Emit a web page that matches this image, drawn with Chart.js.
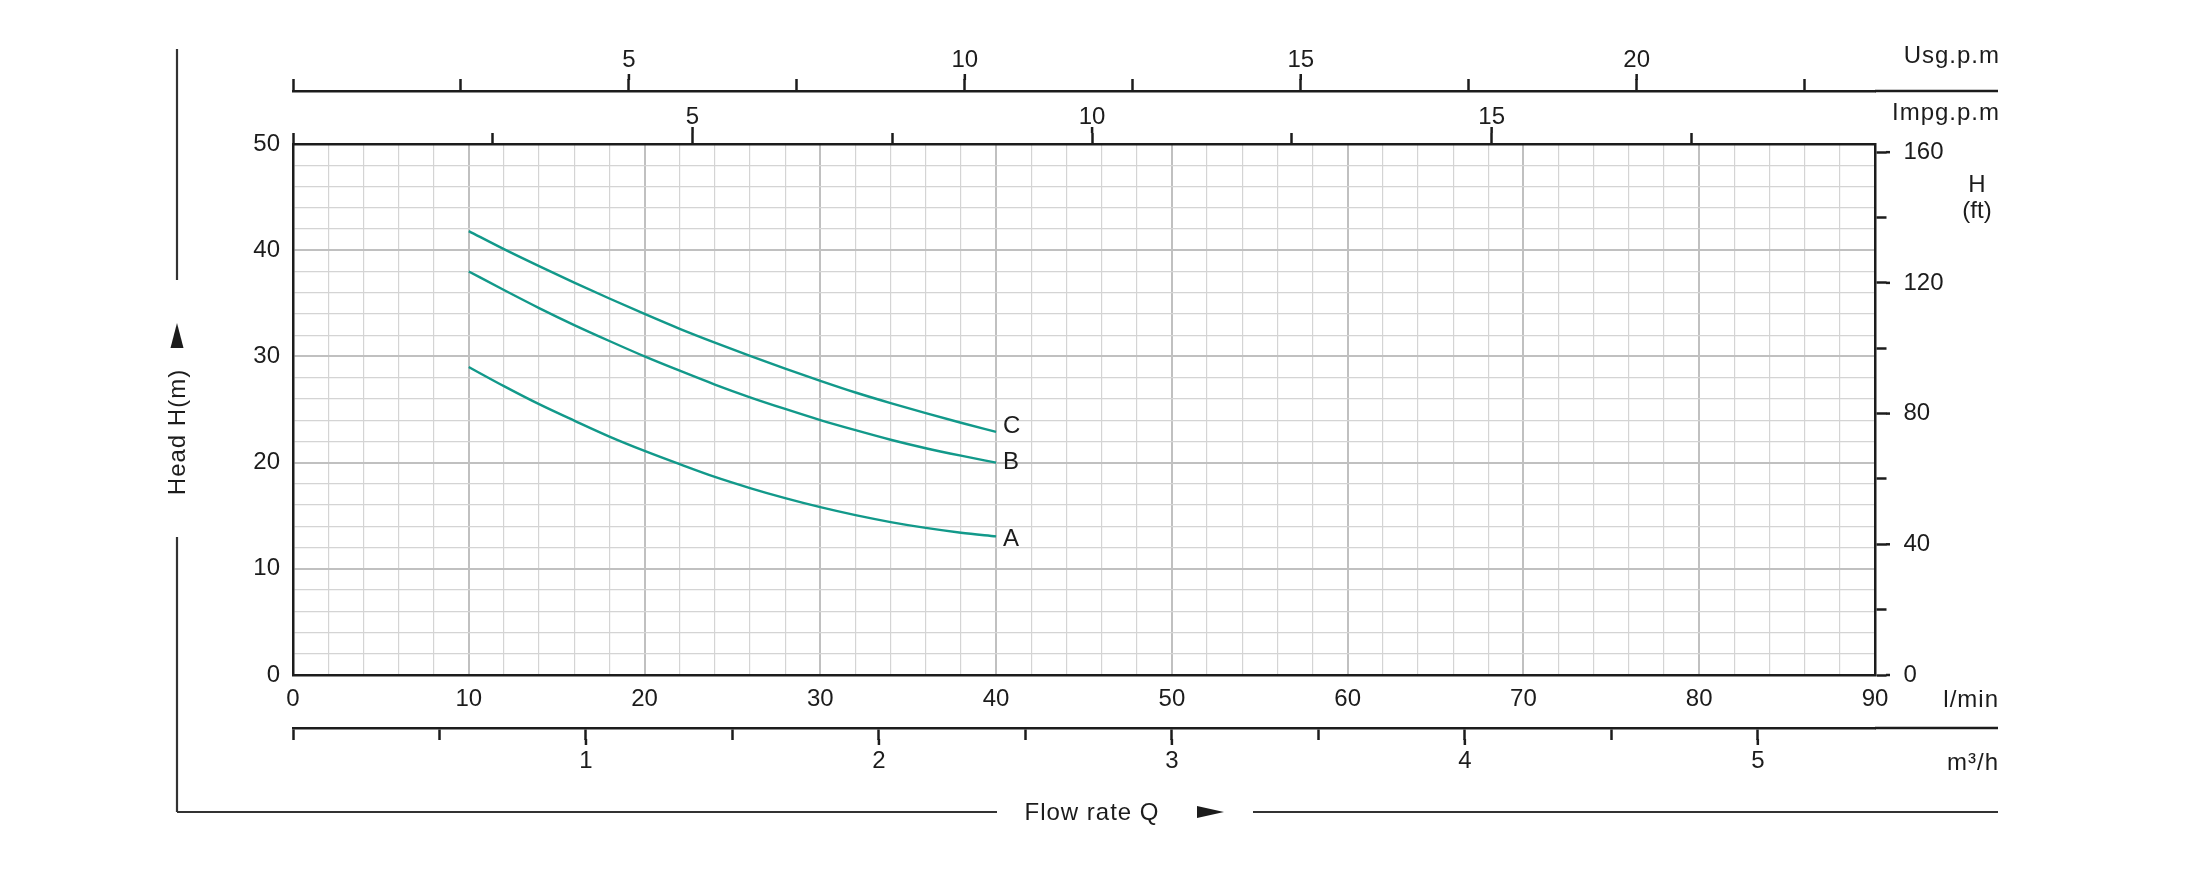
<!DOCTYPE html>
<html lang="en">
<head>
<meta charset="UTF-8">
<title>Pump curves</title>
<style>
    html, body { margin: 0; padding: 0; background: #fff; }
    #curveChart { display: block; }
</style>
</head>
<body>
<canvas id="curveChart" width="2199" height="873"></canvas>

<script src="https://cdn.jsdelivr.net/npm/chart.js@4/dist/chart.umd.min.js"></script>
<script>
    // flow rate Q (l/min) and head H (m)
    const flow  = [10, 12, 14, 16, 18, 20, 22, 24, 26, 28, 30, 32, 34, 36, 38, 40];
    const headA = [29.0, 27.2, 25.5, 23.95, 22.45, 21.1, 19.85, 18.65, 17.6, 16.65, 15.8, 15.05, 14.4, 13.85, 13.4, 13.05];
    const headB = [38.0, 36.25, 34.55, 32.95, 31.45, 30.0, 28.65, 27.35, 26.15, 25.05, 24.0, 23.05, 22.15, 21.35, 20.65, 20.0];
    const headC = [41.8, 40.1, 38.5, 36.95, 35.45, 34.0, 32.6, 31.3, 30.05, 28.85, 27.7, 26.6, 25.6, 24.65, 23.75, 22.9];
    const curveNames = ['A', 'B', 'C'];

    // numbered ticks on every scale
    const lpmLabels  = [0, 10, 20, 30, 40, 50, 60, 70, 80, 90];
    const headLabels = [0, 10, 20, 30, 40, 50];
    const ftLabels   = [0, 40, 80, 120, 160];
    const usgLabels  = [5, 10, 15, 20];
    const impgLabels = [5, 10, 15];
    const m3hLabels  = [1, 2, 3, 4, 5];

    // ranges of the secondary scales (same span as 0..90 l/min / 0..50 m)
    const LPM_MAX = 90;
    const HEAD_MAX = 50;
    const FT_MAX = 162.5;            // as printed on the sheet
    const USG_MAX = LPM_MAX / 3.822; // as printed on the sheet
    const IMPG_MAX = LPM_MAX / 4.546;
    const M3H_MAX = LPM_MAX * 0.06;

    const FAMILY = "'Liberation Sans', Arial, sans-serif";
    const FONT = { family: FAMILY, size: 24 };
    const INK = '#1c1c1c';
    const TEAL = '#12998a';
    const GRID_MINOR = '#d4d4d4';
    const GRID_MAJOR = '#c0c0c0';
    const labelNudge = [3, 0, -5]; // A, B, C

    function steps(max, step) {
        const out = [];
        for (let v = 0; v <= max + 1e-9; v += step) out.push(Math.round(v * 100) / 100);
        return out;
    }
    function fixedTicks(values) {
        return scale => { scale.ticks = values.map(v => ({ value: v })); };
    }
    function labelOnly(list) {
        return v => list.includes(v) ? String(v) : '';
    }
    function gridColor(every) {
        return c => (c.tick && Math.abs(c.tick.value % every) < 1e-9) ? GRID_MAJOR : GRID_MINOR;
    }
    function gridWidth(every) {
        return c => (c.tick && Math.abs(c.tick.value % every) < 1e-9) ? 2 : 1.2;
    }
    function line(ctx, x1, y1, x2, y2) {
        ctx.beginPath();
        ctx.moveTo(x1, y1);
        ctx.lineTo(x2, y2);
        ctx.stroke();
    }
    // longer marks on the numbered ticks
    function majorTicks(ctx, scale, values, from, to) {
        values.forEach(v => {
            const p = scale.getPixelForValue(v);
            if (scale.position === 'top') line(ctx, p, scale.bottom - from, p, scale.bottom - to);
            else if (scale.position === 'bottom') line(ctx, p, scale.top + from, p, scale.top + to);
            else line(ctx, scale.left + from, p, scale.left + to, p);
        });
    }

    const sheetDecor = {
        id: 'sheetDecor',
        afterDraw(chart) {
            const { ctx, chartArea: area, scales } = chart;
            const ruleEnd = area.right + 123;
            ctx.save();
            ctx.strokeStyle = INK;
            ctx.fillStyle = INK;

            // usg and m3/h rules run on past the plot
            ctx.lineWidth = 2.5;
            line(ctx, area.right, scales.usg.bottom, ruleEnd, scales.usg.bottom);
            line(ctx, area.right, scales.m3h.top, ruleEnd, scales.m3h.top);

            majorTicks(ctx, scales.usg, usgLabels, 11, 17);
            majorTicks(ctx, scales.impg, impgLabels, 11, 17);
            majorTicks(ctx, scales.m3h, m3hLabels, 11, 17);
            majorTicks(ctx, scales.ft, ftLabels, 11, 15);

            // unit names
            ctx.font = '24px ' + FAMILY;
            ctx.textBaseline = 'middle';
            ctx.save();
            ctx.letterSpacing = '1px';
            ctx.textAlign = 'right';
            ctx.fillText('Usg.p.m', ruleEnd + 2, 56);
            ctx.fillText('Impg.p.m', ruleEnd + 2, 113);
            ctx.fillText('l/min', ruleEnd + 1, 700);
            ctx.fillText('m³/h', ruleEnd + 1, 763);
            ctx.restore();
            ctx.textAlign = 'center';
            ctx.fillText('H', 1977, 185);
            ctx.fillText('(ft)', 1977, 211);

            // outer frame with axis titles
            const fx = area.left - 116;
            const fy = 812;
            ctx.lineWidth = 2.2;
            ctx.strokeStyle = '#333';
            line(ctx, fx, 49, fx, 280);
            line(ctx, fx, 537, fx, fy);
            line(ctx, fx, fy, 997, fy);
            line(ctx, 1253, fy, ruleEnd, fy);

            ctx.save();
            ctx.translate(fx + 1, 432);
            ctx.rotate(-Math.PI / 2);
            ctx.letterSpacing = '1px';
            ctx.fillText('Head H(m)', 0, 0);
            ctx.restore();
            ctx.beginPath();
            ctx.moveTo(fx, 323);
            ctx.lineTo(fx + 6.5, 348);
            ctx.lineTo(fx - 6.5, 348);
            ctx.closePath();
            ctx.fill();

            ctx.save();
            ctx.letterSpacing = '1px';
            ctx.fillText('Flow rate Q', 1092, 813);
            ctx.restore();
            ctx.beginPath();
            ctx.moveTo(1197, 806);
            ctx.lineTo(1224, 812);
            ctx.lineTo(1197, 818);
            ctx.closePath();
            ctx.fill();

            // curve names at the end of each curve
            ctx.textAlign = 'left';
            chart.data.datasets.forEach((ds, i) => {
                const pts = chart.getDatasetMeta(i).data;
                const last = pts[pts.length - 1];
                ctx.fillText(ds.label, last.x + 7, last.y + labelNudge[i]);
            });
            ctx.restore();
        }
    };

    const curves = [headA, headB, headC];

    new Chart(document.getElementById('curveChart'), {
        type: 'line',
        data: {
            datasets: curves.map((h, i) => ({
                label: curveNames[i],
                data: flow.map((q, k) => ({ x: q, y: h[k] })),
                borderColor: TEAL,
                borderWidth: 2.4,
                pointRadius: 0,
                fill: false,
                tension: 0.4,
                cubicInterpolationMode: 'monotone'
            }))
        },
        options: {
            responsive: false,
            animation: false,
            layout: { padding: 0 },
            plugins: { legend: { display: false }, tooltip: { enabled: false } },
            scales: {
                x: {
                    type: 'linear', position: 'bottom', weight: 0, min: 0, max: LPM_MAX,
                    afterBuildTicks: fixedTicks(steps(LPM_MAX, 2)),
                    afterFit: s => { s.height = 53; },
                    ticks: { autoSkip: false, maxRotation: 0, padding: 10, font: FONT, color: INK, callback: labelOnly(lpmLabels) },
                    grid: { drawTicks: false, color: gridColor(10), lineWidth: gridWidth(10) },
                    border: { color: INK, width: 2.5 }
                },
                m3h: {
                    type: 'linear', position: 'bottom', weight: 1, min: 0, max: M3H_MAX,
                    afterBuildTicks: fixedTicks(steps(5, 0.5)),
                    afterFit: s => { s.height = 145; },
                    ticks: { autoSkip: false, maxRotation: 0, padding: 7, font: FONT, color: INK, callback: labelOnly(m3hLabels) },
                    grid: { drawOnChartArea: false, tickLength: 12, tickColor: INK, tickWidth: 2.5 },
                    border: { color: INK, width: 2.5 }
                },
                y: {
                    type: 'linear', position: 'left', min: 0, max: HEAD_MAX,
                    afterBuildTicks: fixedTicks(steps(HEAD_MAX, 2)),
                    afterFit: s => { s.width = 293; },
                    ticks: { autoSkip: false, padding: 13, font: FONT, color: INK, callback: labelOnly(headLabels) },
                    grid: { drawTicks: false, color: gridColor(10), lineWidth: gridWidth(10) },
                    border: { color: INK, width: 2.5 }
                },
                ft: {
                    type: 'linear', position: 'right', min: 0, max: FT_MAX,
                    afterBuildTicks: fixedTicks(steps(160, 20)),
                    afterFit: s => { s.width = 324; },
                    ticks: { autoSkip: false, padding: 17, font: FONT, color: INK, callback: labelOnly(ftLabels) },
                    grid: { drawOnChartArea: false, tickLength: 11.5, tickColor: INK, tickWidth: 2.5 },
                    border: { color: INK, width: 2.5 }
                },
                impg: {
                    type: 'linear', position: 'top', weight: 0, min: 0, max: IMPG_MAX,
                    afterBuildTicks: fixedTicks(steps(17.5, 2.5)),
                    afterFit: s => { s.height = 53; },
                    ticks: { autoSkip: false, maxRotation: 0, padding: 1, font: FONT, color: INK, callback: labelOnly(impgLabels) },
                    grid: { drawOnChartArea: false, tickLength: 11, tickColor: INK, tickWidth: 2.5 },
                    border: { color: INK, width: 2.5 }
                },
                usg: {
                    type: 'linear', position: 'top', weight: 1, min: 0, max: USG_MAX,
                    afterBuildTicks: fixedTicks(steps(22.5, 2.5)),
                    afterFit: s => { s.height = 91; },
                    ticks: { autoSkip: false, maxRotation: 0, padding: 4, font: FONT, color: INK, callback: labelOnly(usgLabels) },
                    grid: { drawOnChartArea: false, tickLength: 12, tickColor: INK, tickWidth: 2.5 },
                    border: { color: INK, width: 2.5 }
                }
            }
        },
        plugins: [sheetDecor]
    });
</script>
</body>
</html>
